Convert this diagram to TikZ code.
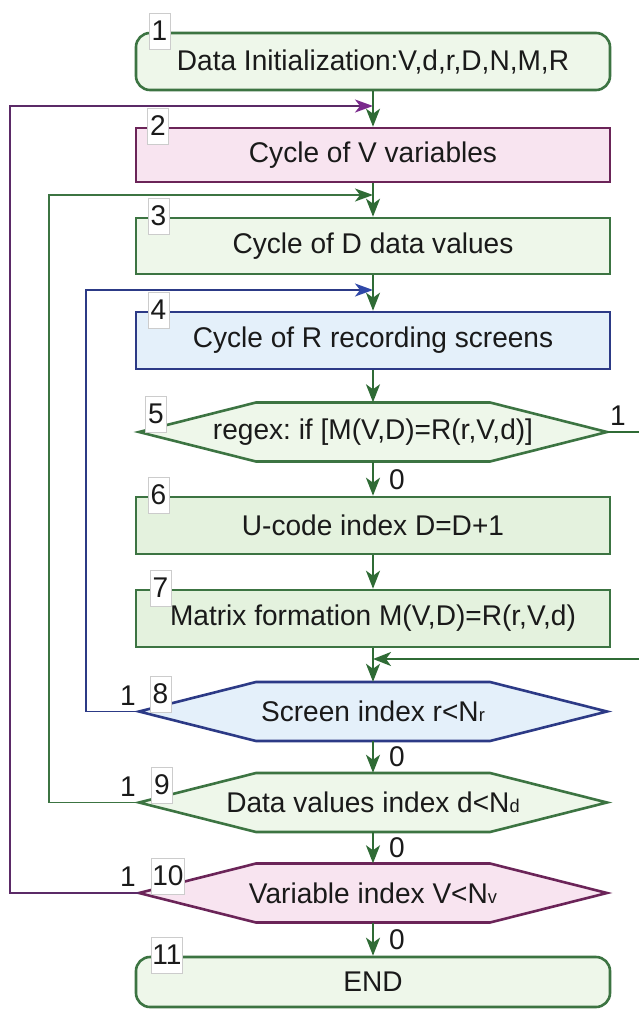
\documentclass[tikz,border=0pt]{standalone}
\usepackage{fontspec}
\setmainfont[FakeStretch=0.985]{Liberation Sans}
\usetikzlibrary{arrows.meta,calc}
\frenchspacing
\definecolor{gborder}{HTML}{3C7442}
\definecolor{gfill}{HTML}{EEF7EA}
\definecolor{gfillb}{HTML}{E4F2DE}
\definecolor{pborder}{HTML}{6B2458}
\definecolor{pfill}{HTML}{F8E4F0}
\definecolor{bborder}{HTML}{2C3A86}
\definecolor{bfill}{HTML}{E4F0FA}
\definecolor{garrow}{HTML}{2F6B35}
\definecolor{ploop}{HTML}{5B2A67}
\definecolor{parrow}{HTML}{7A2A8C}
\definecolor{bloop}{HTML}{2C3A86}
\definecolor{barrow}{HTML}{2F48A8}
\definecolor{txtc}{HTML}{1A1A1A}
\tikzset{
  txt/.style={font=\fontsize{28.5}{30}\selectfont, text=txtc},
  box/.style={rectangle, draw, line width=2.6pt, minimum width=474pt, inner sep=0pt, txt},
  rbox/.style={box, rounded corners=14pt},
  gbox/.style={draw=gborder, fill=gfill},
  gboxb/.style={draw=gborder, fill=gfillb},
  pbox/.style={draw=pborder, fill=pfill},
  bbox/.style={draw=bborder, fill=bfill},
  hexshape/.style={line width=2.6pt, line join=miter},
  hextext/.style={rectangle, draw=none, minimum width=468pt, minimum height=59pt, inner sep=0pt, txt},
  numlab/.style={rectangle, draw=black!20, line width=0.6pt, fill=white, minimum width=21pt, minimum height=36pt, inner xsep=1pt, inner ysep=0pt, txt},
  flow/.style={draw=garrow, line width=2pt, -{Stealth[length=18pt,width=14pt,inset=5pt]}},
  ploopline/.style={draw=ploop, line width=1.6pt, -{Stealth[length=18pt,width=13pt,inset=5pt,color=parrow]}},
  gloopline/.style={draw=gborder, line width=1.6pt, -{Stealth[length=18pt,width=13pt,inset=5pt,color=garrow]}},
  bloopline/.style={draw=bloop, line width=1.6pt, -{Stealth[length=18pt,width=13pt,inset=5pt,color=barrow]}},
}
\newcommand\myhexa[4]{%
  \filldraw[hexshape, #3] (139,#2) -- (256,#2-29.5) -- (490,#2-29.5) -- (607,#2) -- (490,#2+29.5) -- (256,#2+29.5) -- cycle;
  \node[hextext] (#1) at (373,#2) {#4};}
\newcommand\smallsub[1]{{\fontsize{18.5}{18.5}\selectfont #1}}
\begin{document}
\begin{tikzpicture}[x=1pt,y=-1pt]
\useasboundingbox (0,0) rectangle (639,1010);
\fill[white] (0,0) rectangle (639,1010);

% process boxes
\node[rbox, gbox, minimum height=57pt] (b1) at (373,61.5) {Data Initialization:V,d,r,D,N,M,R};
\node[box, pbox, minimum height=54pt] (b2) at (373,155) {Cycle of V variables};
\node[box, gbox, minimum height=56pt] (b3) at (373,246) {Cycle of D data values};
\node[box, bbox, minimum height=57pt] (b4) at (373,340.5) {Cycle of R recording screens};
\myhexa{h5}{432}{draw=gborder, fill=gfill}{regex: if [M(V,D)=R(r,V,d)]}
\node[box, gboxb, minimum height=57pt] (b6) at (373,525.5) {U-code index D=D+1};
\node[box, gboxb, minimum height=57pt] (b7) at (373,618.5) {Matrix formation M(V,D)=R(r,V,d)};
\myhexa{h8}{711.5}{draw=bborder, fill=bfill}{Screen index r<N\smallsub{r}}
\myhexa{h9}{802.5}{draw=gborder, fill=gfill}{Data values index d<N\smallsub{d}}
\myhexa{h10}{893}{draw=pborder, fill=pfill}{Variable index V<N\smallsub{v}}
\node[rbox, gbox, minimum height=50pt] (b11) at (373,982) {END};

% junction points
\coordinate (j2) at (373,106);
\coordinate (j3) at (373,195);
\coordinate (j4) at (373,290);
\coordinate (j8) at (373,659);

% loops
\draw[ploopline] (h10.west) -- ++(-129,0) |- (j2);
\draw[gloopline] (h9.west) -- ++(-90,0) |- (j3);
\draw[bloopline] (h8.west) -- ++(-53,0) |- (j4);
\draw[flow] (h5.east) -- ++(35,0) |- (j8);

% main flow
\draw[flow] (b1.south) -- (b2.north);
\draw[flow] (b2.south) -- (b3.north);
\draw[flow] (b3.south) -- (b4.north);
\draw[flow] (b4.south) -- (h5.north);
\draw[flow] (h5.south) -- (b6.north);
\draw[flow] (b6.south) -- (b7.north);
\draw[flow] (b7.south) -- (h8.north);
\draw[flow] (h8.south) -- (h9.north);
\draw[flow] (h9.south) -- (h10.north);
\draw[flow] (h10.south) -- (b11.north);

% branch labels
\node[txt] (y5) at (618,416) {1};
\node[txt] (y8) at (128,696) {1};
\node[txt] (y9) at (128,787) {1};
\node[txt] (y10) at (128,877) {1};
\node[txt] (z5) at (397,479.5) {0};
\node[txt] (z8) at (397,756.5) {0};
\node[txt] (z9) at (397,848) {0};
\node[txt] (z10) at (397,939.5) {0};

% step numbers
\node[numlab] (n1) at (159.5,31) {1};
\node[numlab] (n2) at (158,126) {2};
\node[numlab] (n3) at (158.5,216) {3};
\node[numlab] (n4) at (158.5,310) {4};
\node[numlab] (n5) at (156,414) {5};
\node[numlab] (n6) at (158.5,495) {6};
\node[numlab] (n7) at (160.5,588) {7};
\node[numlab] (n8) at (160.5,694) {8};
\node[numlab] (n9) at (162,785) {9};
\node[numlab] (n10) at (168,876) {10};
\node[numlab] (n11) at (167,955) {11};
\end{tikzpicture}
\end{document}
